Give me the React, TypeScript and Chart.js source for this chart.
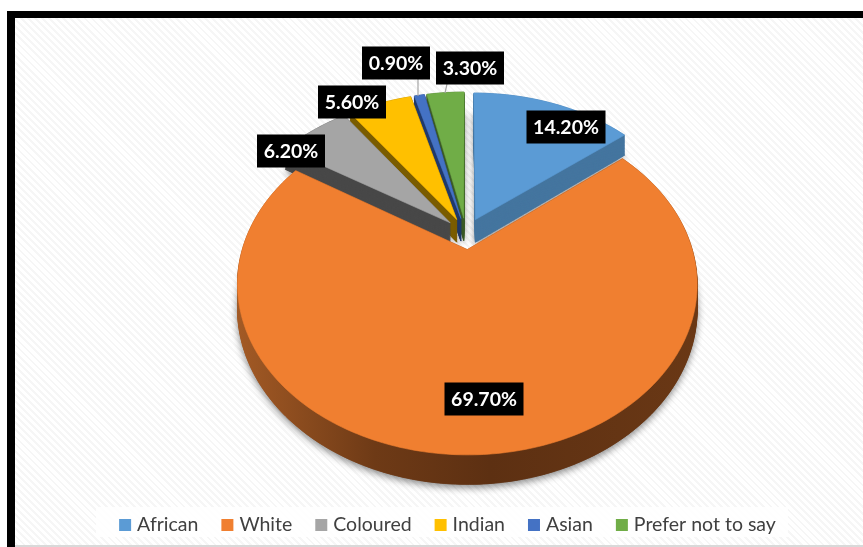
import React, { useEffect, useRef } from "react";
import { Chart, registerables } from "chart.js";

Chart.register(...registerables);

const categories = ["African", "White", "Coloured", "Indian", "Asian", "Prefer not to say"];
const shares = [14.2, 69.7, 6.2, 5.6, 0.9, 3.3];
const topColors = ["#5b9bd5", "#f07f30", "#a5a5a5", "#ffc000", "#4472c4", "#70ad47"];
const wallColors = ["#44759f", "#5f3213", "#484848", "#7a5c00", "#223a6b", "#3c5c28"];

// Back slices are painted first so that nearer walls overlap them.
const paintOrder = [5, 4, 3, 2, 0, 1];

// Centre of each black value tag, in category order.
const tagCentres = [
  [566, 127],
  [484, 399],
  [291, 151],
  [352, 102],
  [396, 63],
  [470, 68],
];

// Short grey leaders joining the two outlying tags to their slices.
const leaders = [
  [418, 79, 418, 96],
  [447, 84, 445, 93],
];

// Perspective camera used to tilt the disc.
const view = { cx: 466, cy: 233.5, spanX: 220.5, spanY: 157, tilt: 0.2, depth: 23, explode: 0.1 };

const project = (u: number, v: number) => {
  const w = 1 + view.tilt * v;
  return { x: view.cx + (view.spanX * u) / w, y: view.cy - (view.spanY * v) / w, w };
};

const sectorOutline = (start: number, end: number) => {
  const mid = (start + end) / 2;
  const ou = Math.cos(mid) * view.explode;
  const ov = -Math.sin(mid) * view.explode;
  const pts = [project(ou, ov)];
  const steps = Math.max(4, Math.ceil((end - start) * 60));
  for (let i = 0; i <= steps; i++) {
    const a = start + ((end - start) * i) / steps;
    pts.push(project(ou + Math.cos(a), ov - Math.sin(a)));
  }
  return pts;
};

const fillOutline = (ctx: CanvasRenderingContext2D, pts: { x: number; y: number; w: number }[], lift: number) => {
  ctx.beginPath();
  pts.forEach((p, i) => {
    const y = p.y + (view.depth * lift) / p.w;
    if (i === 0) ctx.moveTo(p.x, y);
    else ctx.lineTo(p.x, y);
  });
  ctx.closePath();
  ctx.fill();
  ctx.stroke();
};

const tiltedPie = {
  id: "tiltedPie",
  beforeDatasetDraw(chart: any) {
    const ctx: CanvasRenderingContext2D = chart.ctx;
    const arcs = chart.getDatasetMeta(0).data;
    ctx.save();
    ctx.lineWidth = 0.6;
    ctx.lineJoin = "round";
    paintOrder.forEach((idx) => {
      const arc = arcs[idx];
      const pts = sectorOutline(arc.startAngle, arc.endAngle);
      let wall: string | CanvasGradient = wallColors[idx];
      if (categories[idx] === "White") {
        const g = ctx.createLinearGradient(237, 0, 697, 0);
        g.addColorStop(0, "#a35a25");
        g.addColorStop(0.3, "#6e3a16");
        g.addColorStop(0.55, "#5d3012");
        g.addColorStop(1, "#6a3815");
        wall = g;
      }
      ctx.fillStyle = wall;
      ctx.strokeStyle = wall;
      ctx.shadowColor = "rgba(0,0,0,0.45)";
      ctx.shadowBlur = 7;
      ctx.shadowOffsetY = 3;
      fillOutline(ctx, pts, 1);
      ctx.shadowColor = "transparent";
      for (let f = 1; f >= 0; f -= 0.03) fillOutline(ctx, pts, f);
      ctx.fillStyle = topColors[idx];
      ctx.strokeStyle = topColors[idx];
      fillOutline(ctx, pts, 0);
    });
    ctx.restore();
    return false;
  },
  afterDatasetsDraw(chart: any) {
    const ctx: CanvasRenderingContext2D = chart.ctx;
    ctx.save();
    ctx.strokeStyle = "#a6a6a6";
    ctx.lineWidth = 1.2;
    leaders.forEach(([x1, y1, x2, y2]) => {
      ctx.beginPath();
      ctx.moveTo(x1, y1);
      ctx.lineTo(x2, y2);
      ctx.stroke();
    });
    ctx.font = "bold 19.5px Lato";
    ctx.textAlign = "center";
    ctx.textBaseline = "middle";
    const values: number[] = chart.data.datasets[0].data;
    values.forEach((value, i) => {
      const [x, y] = tagCentres[i];
      const text = `${value.toFixed(2)}%`;
      const w = Math.round(ctx.measureText(text).width) + 13;
      ctx.fillStyle = "#000";
      ctx.fillRect(x - w / 2, y - 16.5, w, 33);
      ctx.fillStyle = "#fff";
      ctx.fillText(text, x, y + 1);
    });
    ctx.restore();
  },
  afterDraw(chart: any) {
    const ctx: CanvasRenderingContext2D = chart.ctx;
    const labels: string[] = chart.data.labels;
    const colors: string[] = chart.data.datasets[0].backgroundColor;
    ctx.save();
    ctx.fillStyle = "rgba(255,255,255,0.9)";
    ctx.fillRect(96, 507, 692, 30);
    ctx.font = "19.5px Lato";
    ctx.textBaseline = "middle";
    ctx.textAlign = "left";
    const swatch = 12;
    const textGap = 6;
    const itemGap = 23;
    const widths = labels.map((l) => ctx.measureText(l).width);
    const total = widths.reduce((s, w) => s + w + swatch + textGap, 0) + itemGap * (labels.length - 1);
    let x = 447.5 - total / 2;
    labels.forEach((label, i) => {
      ctx.fillStyle = colors[i];
      ctx.fillRect(x, 519, swatch, swatch);
      ctx.fillStyle = "#404040";
      ctx.fillText(label, x + swatch + textGap, 525);
      x += swatch + textGap + widths[i] + itemGap;
    });
    ctx.restore();
  },
};

export default function App() {
  const ref = useRef<HTMLCanvasElement>(null);

  useEffect(() => {
    document.body.style.margin = "0";
    document.body.style.overflow = "hidden";
    const chart = new Chart(ref.current!, {
      type: "pie",
      data: {
        labels: categories,
        datasets: [{ data: shares, backgroundColor: topColors, borderWidth: 0 }],
      },
      options: {
        responsive: false,
        animation: false,
        plugins: { legend: { display: false }, tooltip: { enabled: false } },
      },
      plugins: [tiltedPie],
    } as any);
    return () => chart.destroy();
  }, []);

  return (
    <div style={{ position: "relative", width: 863, height: 547, background: "#fff", overflow: "hidden" }}>
      <div
        style={{
          position: "absolute",
          left: 6.5,
          top: 11,
          width: 870,
          height: 540,
          boxSizing: "border-box",
          borderLeft: "8.5px solid #000",
          borderTop: "7.5px solid #000",
          background: "repeating-linear-gradient(45deg, #f6f6f6 0 2px, #ffffff 2px 5px)",
        }}
      />
      <div style={{ position: "absolute", left: 15, top: 545, width: 848, height: 2, background: "#d9d9d9" }} />
      <canvas ref={ref} width={863} height={547} style={{ position: "absolute", left: 0, top: 0, display: "block" }} />
    </div>
  );
}
